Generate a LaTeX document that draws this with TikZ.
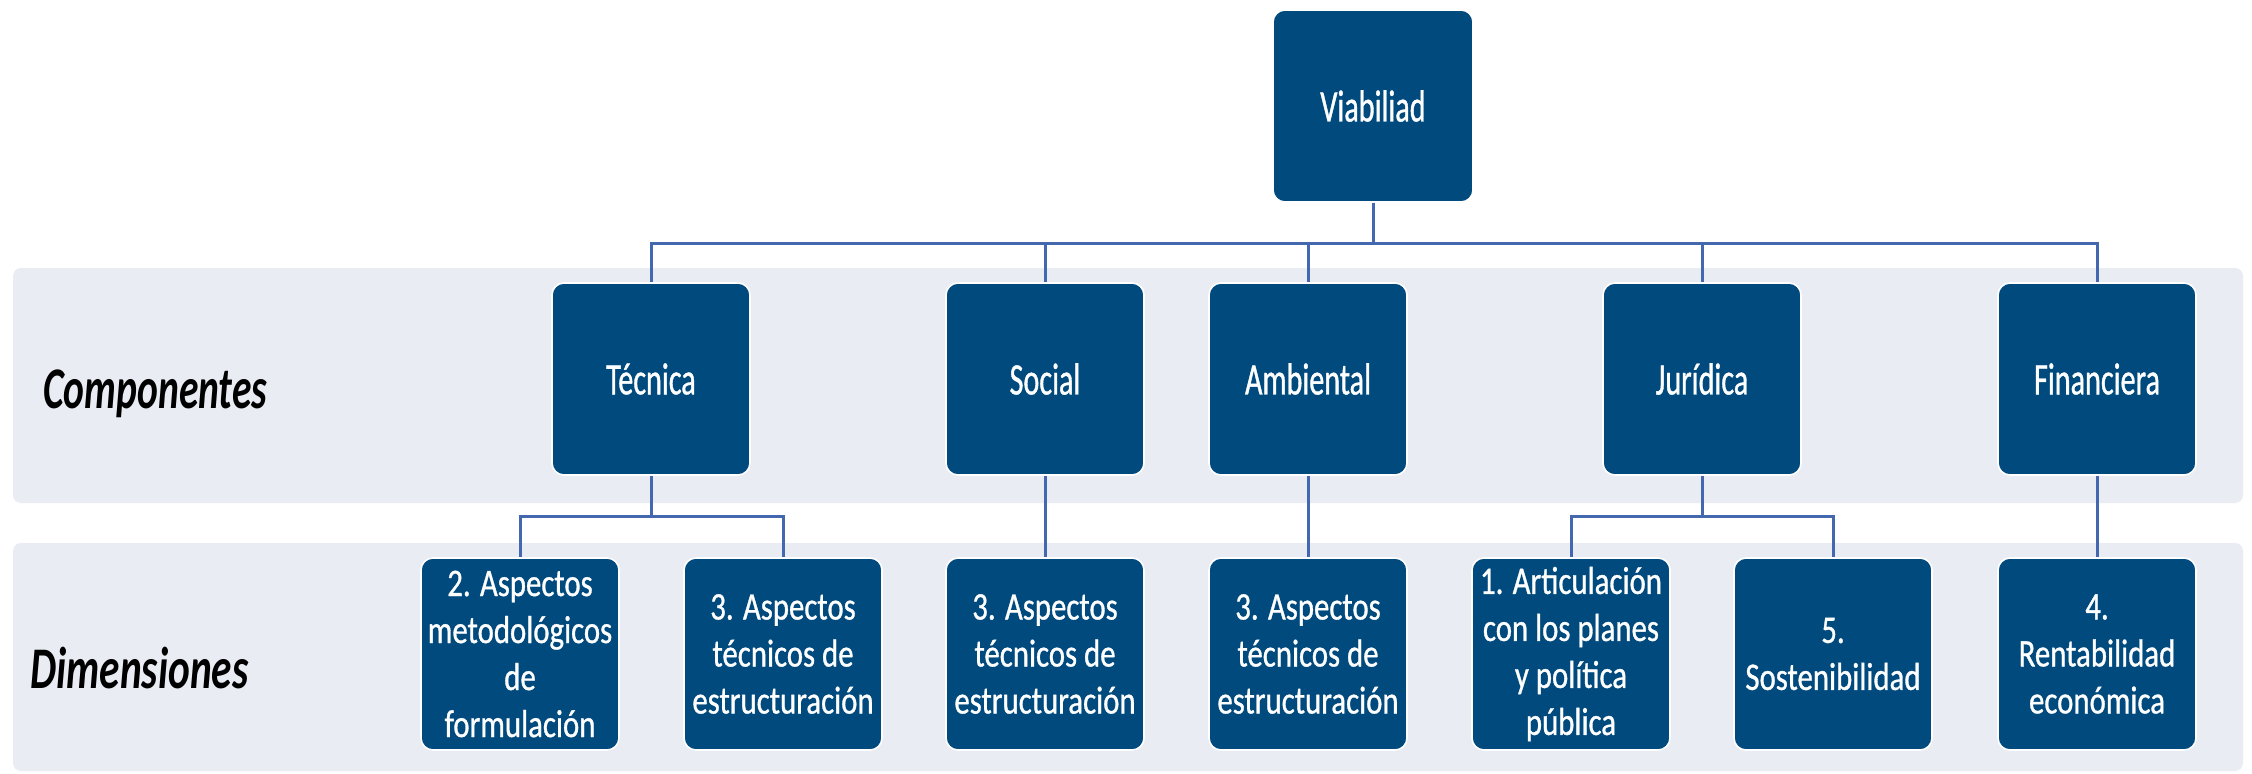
\documentclass[tikz,border=0pt]{standalone}
\usepackage{fontspec}
\newfontfamily\boxfont{Carlito}[FakeStretch=0.67, FakeBold=0.8]
\newfontfamily\dimfont{Carlito}[FakeStretch=0.79, FakeBold=0.8]
\newfontfamily\labfont{Carlito}[FakeStretch=0.67]
\newfontfamily\labfontb{Carlito}[FakeStretch=0.70]
\definecolor{boxblue}{RGB}{1,74,126}
\definecolor{lineblue}{RGB}{68,104,176}
\definecolor{bandgray}{RGB}{233,236,243}
\tikzset{
  unitbox/.style={draw=white, line width=0.8pt, fill=boxblue, rounded corners=6pt,
    minimum width=99pt, minimum height=96pt, inner sep=0pt, text=white, align=center},
  compbox/.style={unitbox, font=\boxfont\fontsize{22.5}{27}\selectfont},
  dimbox/.style={unitbox, font=\dimfont\fontsize{19.5}{23.5}\selectfont},
  conn/.style={draw=lineblue, line width=1.5pt},
  lab/.style={text=black, inner sep=0pt}
}
\begin{document}
\begin{tikzpicture}[x=0.5pt, y=-0.5pt]
\useasboundingbox (0,0) rectangle (2252,773);
\fill[white] (0,0) rectangle (2252,773);
% bands
\fill[bandgray, rounded corners=4pt] (13,268) rectangle (2243,503);
\fill[bandgray, rounded corners=4pt] (13,543) rectangle (2243,771);
% labels
\node[lab, anchor=base west, font=\labfont\bfseries\itshape\fontsize{29.5}{34}\selectfont] (lcomp) at (43,408) {Componentes};
\node[lab, anchor=base west, font=\labfontb\bfseries\itshape\fontsize{29.5}{34}\selectfont] (ldim) at (30,688) {Dimensiones};
% top
\node[compbox, minimum width=100pt] (viab) at (1373,106) {Viabiliad};
% components
\node[compbox] (tec) at (651,379) {Técnica};
\node[compbox] (soc) at (1045,379) {Social};
\node[compbox] (amb) at (1308,379) {Ambiental};
\node[compbox] (jur) at (1702,379) {Jurídica};
\node[compbox] (fin) at (2097,379) {Financiera};
% dimensions
\node[dimbox] (d1) at (520,654) {2. Aspectos\\metodológicos\\de\\formulación};
\node[dimbox] (d2) at (783,654) {3. Aspectos\\técnicos de\\estructuración};
\node[dimbox] (d3) at (1045,654) {3. Aspectos\\técnicos de\\estructuración};
\node[dimbox] (d4) at (1308,654) {3. Aspectos\\técnicos de\\estructuración};
\node[dimbox] (d5) at (1571,654) {1. Articulación\\con los planes\\y política\\pública};
\node[dimbox] (d6) at (1833,654) {5.\\Sostenibilidad};
\node[dimbox] (d7) at (2097,654) {4.\\Rentabilidad\\económica};
% buses
\coordinate (bus) at (0,243);
\coordinate (bust) at (0,516);
% connectors top
\foreach \c in {tec,soc,amb,jur,fin}
  \draw[conn] (viab.south) -- (viab.south |- bus) -| (\c.north);
% connectors bottom
\draw[conn] (tec.south) -- (tec.south |- bust) -| (d1.north);
\draw[conn] (tec.south) -- (tec.south |- bust) -| (d2.north);
\draw[conn] (soc.south) -- (d3.north);
\draw[conn] (amb.south) -- (d4.north);
\draw[conn] (jur.south) -- (jur.south |- bust) -| (d5.north);
\draw[conn] (jur.south) -- (jur.south |- bust) -| (d6.north);
\draw[conn] (fin.south) -- (d7.north);
\end{tikzpicture}
\end{document}
